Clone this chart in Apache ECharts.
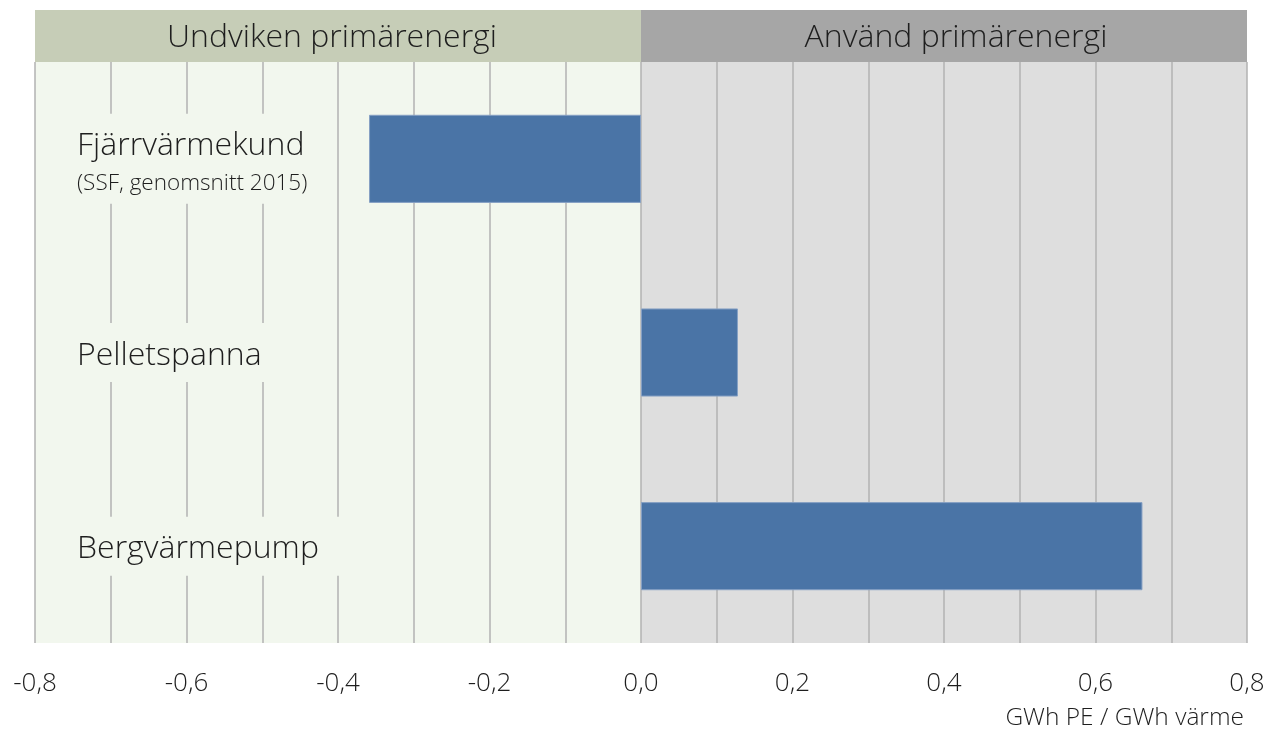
<!DOCTYPE html>
<html>
<head>
<meta charset="utf-8">
<script src="https://cdn.jsdelivr.net/npm/echarts@6/dist/echarts.min.js"></script>
<style>html,body{margin:0;padding:0;background:#fff}#c{width:1285px;height:736px}</style>
</head>
<body>
<div id="c"></div>
<script>
const categories = ['Fjärrvärmekund', 'Pelletspanna', 'Bergvärmepump'];
const categoryNotes = ['(SSF, genomsnitt 2015)', '', ''];
const values = [-0.359, 0.128, 0.662];
const zoneLabels = ['Undviken primärenergi', 'Använd primärenergi'];
const zoneBounds = [[-0.8, 0], [0, 0.8]];
const tickValues = [-0.8, -0.6, -0.4, -0.2, 0, 0.2, 0.4, 0.6, 0.8];
const tickLabels = ['-0,8', '-0,6', '-0,4', '-0,2', '0,0', '0,2', '0,4', '0,6', '0,8'];
const unitLabel = 'GWh PE / GWh värme';

const FONT = '"Open Sans", "Segoe UI", sans-serif';
const TXT = '#1e1e1e';
const W = 300;
const zoneBg = ['#F2F7EE', '#DEDEDE'];
const zoneHead = ['#C6CDB7', '#A6A6A6'];
const headShift = [[-6, 2], [12, 2]];

const chart = echarts.init(document.getElementById('c'), null, {renderer: 'canvas'});

function tickFmt(v) {
  for (let i = 0; i < tickValues.length; i++) {
    if (Math.abs(v - tickValues[i]) < 1e-6) return tickLabels[i];
  }
  return '';
}

chart.setOption({
  animation: false,
  backgroundColor: '#ffffff',
  grid: [
    {left: 35, right: 38, top: 62, bottom: 93},
    {left: 35, right: 38, top: 10, height: 52}
  ],
  xAxis: [
    {
      type: 'value', gridIndex: 0, min: -0.8, max: 0.8, interval: 0.1, z: 2,
      axisLine: {show: false}, axisTick: {show: false},
      splitLine: {show: true, lineStyle: {color: '#B2B2B2', width: 1.5}},
      axisLabel: {formatter: tickFmt, fontFamily: FONT, fontWeight: W, fontSize: 26, color: TXT, margin: 28, showMinLabel: true, showMaxLabel: true, hideOverlap: false},
      name: unitLabel, nameLocation: 'end', nameGap: 0,
      nameTextStyle: {fontFamily: FONT, fontWeight: W, fontSize: 24.5, color: TXT, align: 'right', verticalAlign: 'top', padding: [63, 3, 0, 0]}
    },
    {
      type: 'value', gridIndex: 1, min: -0.8, max: 0.8, show: false
    }
  ],
  yAxis: [
    {
      type: 'category', gridIndex: 0, data: categories, inverse: true, z: 3,
      axisLine: {show: false}, axisTick: {show: false}, splitLine: {show: false},
      axisLabel: {
        inside: true, margin: 38, align: 'left', verticalAlign: 'middle',
        backgroundColor: zoneBg[0], padding: [11, 22, 5, 4],
        formatter: function (v, i) {
          const note = categoryNotes[i];
          return note ? '{a|' + v + '}\n{b|' + note + '}' : '{a|' + v + '}';
        },
        rich: {
          a: {fontFamily: FONT, fontWeight: W, fontSize: 32, lineHeight: 43, color: TXT},
          b: {fontFamily: FONT, fontWeight: W, fontSize: 22.5, lineHeight: 31, color: TXT}
        }
      }
    },
    {
      type: 'category', gridIndex: 1, data: ['h'], show: false
    }
  ],
  series: [
    {
      type: 'line', xAxisIndex: 0, yAxisIndex: 0, data: [], z: 0, silent: true,
      markArea: {
        silent: true, z: 0,
        label: {show: false},
        data: zoneBounds.map((b, i) => [{xAxis: b[0], itemStyle: {color: zoneBg[i]}}, {xAxis: b[1]}])
      }
    },
    {
      type: 'line', xAxisIndex: 1, yAxisIndex: 1, data: [], silent: true,
      markArea: {
        silent: true,
        label: {show: true, position: 'inside', fontFamily: FONT, fontWeight: W, fontSize: 32, color: TXT},
        data: zoneBounds.map((b, i) => [{xAxis: b[0], name: zoneLabels[i], itemStyle: {color: zoneHead[i]}, label: {offset: headShift[i]}}, {xAxis: b[1]}])
      }
    },
    {
      type: 'bar', xAxisIndex: 0, yAxisIndex: 0, data: values, z: 4,
      barWidth: '45.5%',
      itemStyle: {color: '#4A74A6', borderColor: '#86A0C4', borderWidth: 1}
    }
  ]
});
</script>
</body>
</html>
